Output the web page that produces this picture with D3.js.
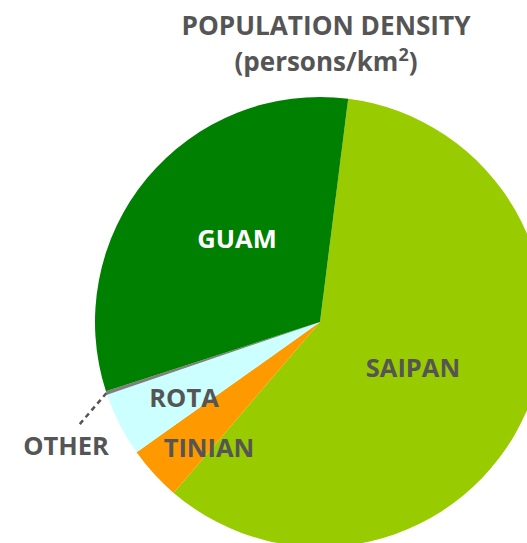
<!DOCTYPE html>
<html>
<head>
<meta charset="utf-8">
<script src="https://cdn.jsdelivr.net/npm/d3@7"></script>
<style>
  html, body { margin: 0; padding: 0; background: #ffffff; }
  svg { display: block; }
  text { font-family: "Open Sans", "Noto Sans", sans-serif; font-weight: 700; }
</style>
</head>
<body>
<svg id="chart" width="527" height="543"></svg>
<script>
// Population density shares, clockwise from the top
const islands = ["SAIPAN", "TINIAN", "ROTA", "OTHER", "GUAM"];
const density = [59.3, 3.9, 4.6, 0.25, 32.0];
const colors = ["#99cc00", "#ff9900", "#ccffff", "#7f7f7f", "#008000"];

const W = 527, H = 543;
const cx = 320, cy = 322, R = 225;
const start = 7.2 * Math.PI / 180;

const svg = d3.select("#chart");

// Title
svg.append("text")
  .attr("x", 326).attr("y", 35)
  .attr("text-anchor", "middle")
  .attr("fill", "#555555")
  .attr("font-size", 26.2)
  .text("POPULATION DENSITY");

const sub = svg.append("text")
  .attr("x", 326).attr("y", 71)
  .attr("text-anchor", "middle")
  .attr("fill", "#555555")
  .attr("font-size", 26);
sub.append("tspan").text("(persons/km");
sub.append("tspan").attr("font-size", 18).attr("dy", -10).text("2");
sub.append("tspan").attr("dy", 10).text(")");

const pie = d3.pie().sort(null).startAngle(start).endAngle(start + 2 * Math.PI);
const arcs = pie(density);
const arc = d3.arc().innerRadius(0).outerRadius(R);

const g = svg.append("g").attr("transform", `translate(${cx},${cy})`);

g.selectAll("path")
  .data(arcs)
  .join("path")
  .attr("d", arc)
  .attr("fill", (d, i) => colors[i]);

// Label placement, relative to the pie centre
const labelPos = {
  SAIPAN: [93, 45],
  TINIAN: [-111, 125],
  ROTA: [-136, 75],
  OTHER: [-254, 123],
  GUAM: [-83, -84]
};

g.selectAll("text.lbl")
  .data(arcs)
  .join("text")
  .attr("class", "lbl")
  .attr("x", (d, i) => labelPos[islands[i]][0])
  .attr("y", (d, i) => labelPos[islands[i]][1])
  .attr("text-anchor", "middle")
  .attr("dominant-baseline", "central")
  .attr("font-size", 25.5)
  .attr("fill", (d, i) => islands[i] === "GUAM" ? "#ffffff" : "#555555")
  .text((d, i) => islands[i]);

// Leader line for the thin slice
const other = arcs[islands.indexOf("OTHER")];
const mid = (other.startAngle + other.endAngle) / 2;
const p0 = [Math.sin(mid) * R, -Math.cos(mid) * R];
g.append("line")
  .attr("x1", p0[0]).attr("y1", p0[1])
  .attr("x2", -241).attr("y2", 103)
  .attr("stroke", "#555555")
  .attr("stroke-width", 2.5)
  .attr("stroke-dasharray", "5,4");
</script>
</body>
</html>
